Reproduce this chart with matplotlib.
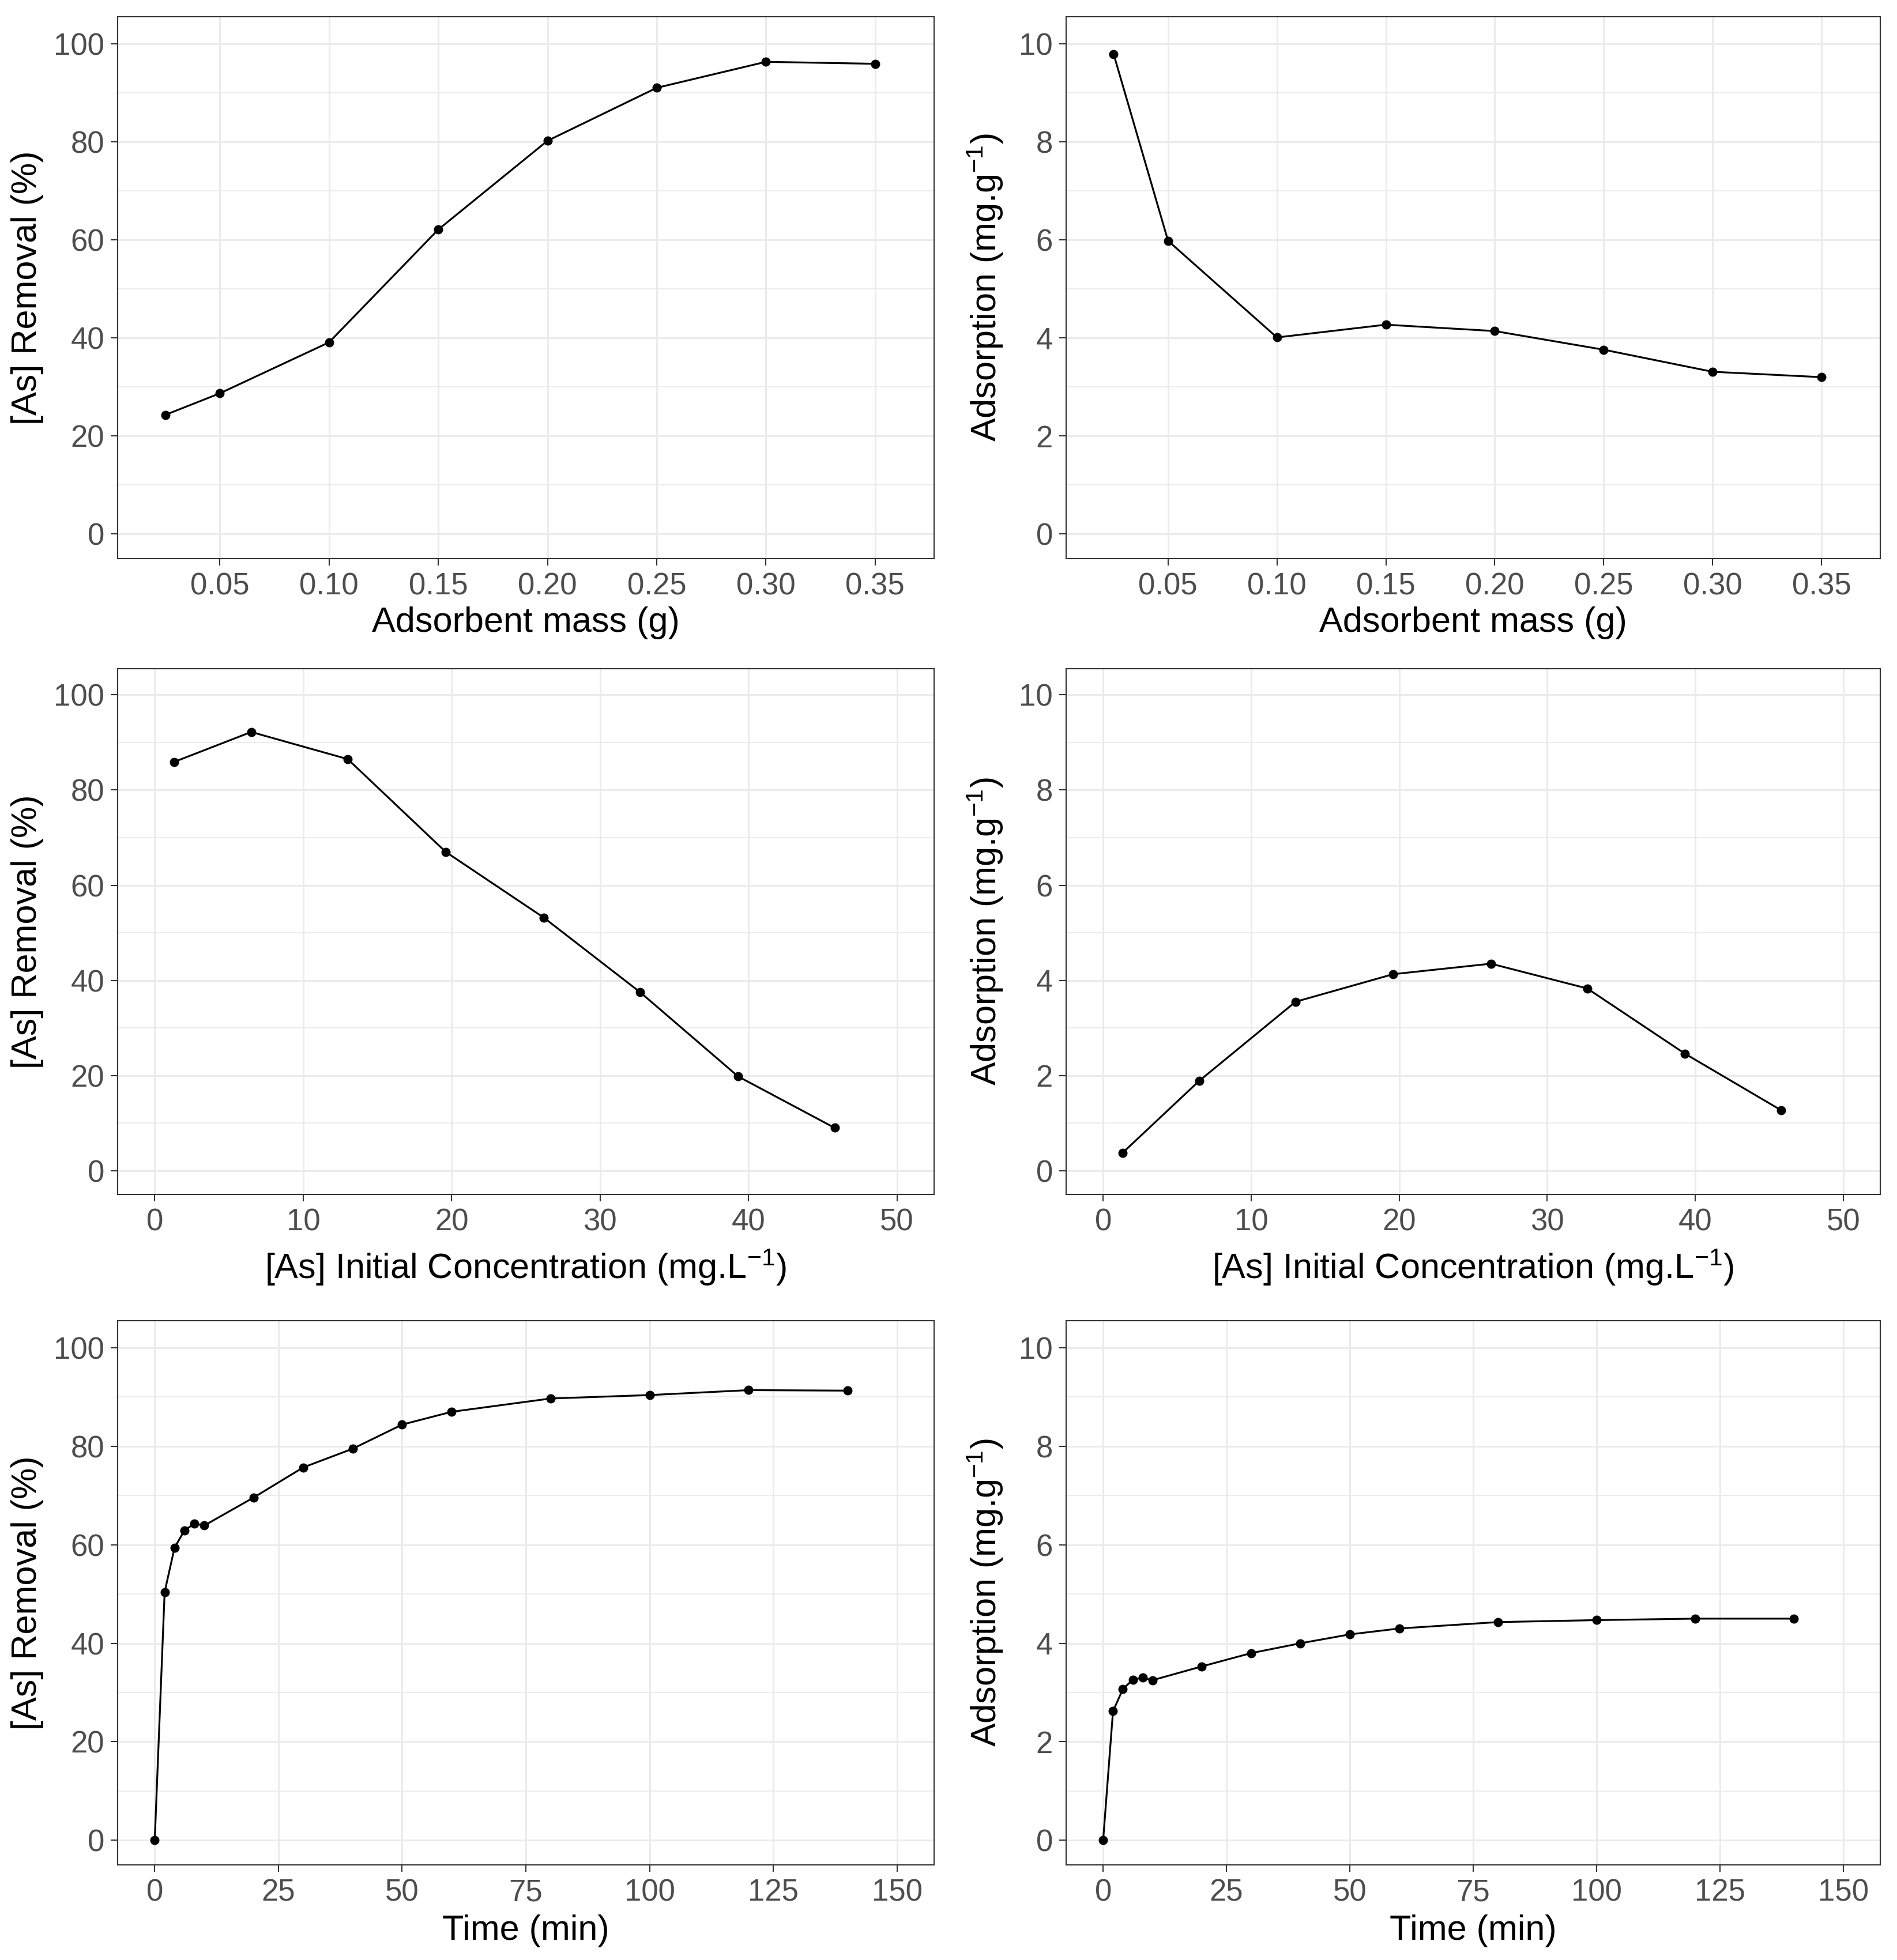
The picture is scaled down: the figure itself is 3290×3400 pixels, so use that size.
import matplotlib
matplotlib.use('Agg')
import matplotlib.pyplot as plt
from matplotlib.ticker import FixedLocator, FormatStrFormatter

plt.rcParams['font.family'] = ['Liberation Sans', 'DejaVu Sans']
plt.rcParams['mathtext.fontset'] = 'custom'
plt.rcParams['mathtext.rm'] = 'Liberation Sans'
plt.rcParams['mathtext.default'] = 'regular'

# adsorbent mass series
mass = [0.025, 0.05, 0.10, 0.15, 0.20, 0.25, 0.30, 0.35]
mass_removal = [24.3, 28.7, 39.1, 62.1, 80.2, 91.0, 96.3, 95.9]
mass_adsorption = [9.79, 5.98, 4.01, 4.27, 4.14, 3.76, 3.31, 3.20]

# initial concentration series
conc = [1.3, 6.5, 13.0, 19.6, 26.2, 32.7, 39.3, 45.8]
conc_removal = [85.9, 92.2, 86.5, 67.0, 53.2, 37.5, 19.8, 9.0]
conc_adsorption = [0.37, 1.89, 3.55, 4.13, 4.35, 3.83, 2.46, 1.27]

# kinetics series
time = [0, 2, 4, 6, 8, 10, 20, 30, 40, 50, 60, 80, 100, 120, 140]
time_removal = [0, 50.4, 59.4, 62.9, 64.3, 63.9, 69.6, 75.7, 79.5, 84.4, 87.0, 89.7, 90.4, 91.4, 91.3]
time_adsorption = [0, 2.62, 3.07, 3.26, 3.30, 3.25, 3.53, 3.80, 4.00, 4.18, 4.30, 4.43, 4.47, 4.50, 4.50]

mass_ticks = [0.05, 0.10, 0.15, 0.20, 0.25, 0.30, 0.35]
conc_ticks = [0, 10, 20, 30, 40, 50]
time_ticks = [0, 25, 50, 75, 100, 125, 150]

W, H = 3291, 3400
fig = plt.figure(figsize=(W / 100, H / 100), dpi=100)
fig.patch.set_facecolor('white')

cols = [(204, 1416), (1849, 1412)]
rows = [(29, 969), (1160, 2072), (2291, 3235)]

lbl_removal = '[As] Removal (%)'
lbl_ads = 'Adsorption (mg.g$^{-1}$)'

panels = [
    (0, 0, mass, mass_removal, 'Adsorbent mass (g)', lbl_removal, mass_ticks, (0.0032, 0.377), '%.2f'),
    (0, 1, mass, mass_adsorption, 'Adsorbent mass (g)', lbl_ads, mass_ticks, (0.0032, 0.377), '%.2f'),
    (1, 0, conc, conc_removal, '[As] Initial Concentration (mg.L$^{-1}$)', lbl_removal, conc_ticks, (-2.5, 52.5), '%d'),
    (1, 1, conc, conc_adsorption, '[As] Initial Concentration (mg.L$^{-1}$)', lbl_ads, conc_ticks, (-2.5, 52.5), '%d'),
    (2, 0, time, time_removal, 'Time (min)', lbl_removal, time_ticks, (-7.5, 157.5), '%d'),
    (2, 1, time, time_adsorption, 'Time (min)', lbl_ads, time_ticks, (-7.5, 157.5), '%d'),
]

xlabel_y = [1081, 2199, 3350]
ylabel_x = [48, 1709]

for r, c, xs, ys, xl, yl, xt, xlim, fmt in panels:
    left, w = cols[c]
    top, bottom = rows[r]
    ax = fig.add_axes([left / W, 1 - bottom / H, w / W, (bottom - top) / H])
    ax.plot(xs, ys, color='black', lw=2.3, marker='o', markersize=10.5, zorder=3)
    ax.set_xlim(*xlim)
    if c == 0:
        ax.set_ylim(-5, 105.5)
        yt = [0, 20, 40, 60, 80, 100]
        ym = [10, 30, 50, 70, 90]
    else:
        ax.set_ylim(-0.5, 10.55)
        yt = [0, 2, 4, 6, 8, 10]
        ym = [1, 3, 5, 7, 9]
    ax.xaxis.set_major_locator(FixedLocator(xt))
    ax.xaxis.set_major_formatter(FormatStrFormatter(fmt))
    ax.yaxis.set_major_locator(FixedLocator(yt))
    ax.yaxis.set_minor_locator(FixedLocator(ym))
    ax.grid(True, which='major', color='#EBEBEB', lw=2.2, zorder=0)
    ax.grid(True, which='minor', axis='y', color='#EBEBEB', lw=1.3, zorder=0)
    ax.set_axisbelow(True)
    for s in ax.spines.values():
        s.set_color('#333333')
        s.set_linewidth(1.5)
    ax.tick_params(which='major', length=8.6, width=1.5, color='#333333',
                   labelsize=38, labelcolor='#4D4D4D', pad=8)
    ax.tick_params(which='minor', length=0)
    ax.set_xlabel(xl, fontsize=44, color='black', va='center')
    ax.xaxis.set_label_coords(0.5, -(xlabel_y[r] - bottom) / (bottom - top))
    ax.set_ylabel(yl, fontsize=44, color='black', va='center', ha='center')
    ax.yaxis.set_label_coords((ylabel_x[c] - left) / w, 0.5)

fig.savefig('out.png', dpi=100)
